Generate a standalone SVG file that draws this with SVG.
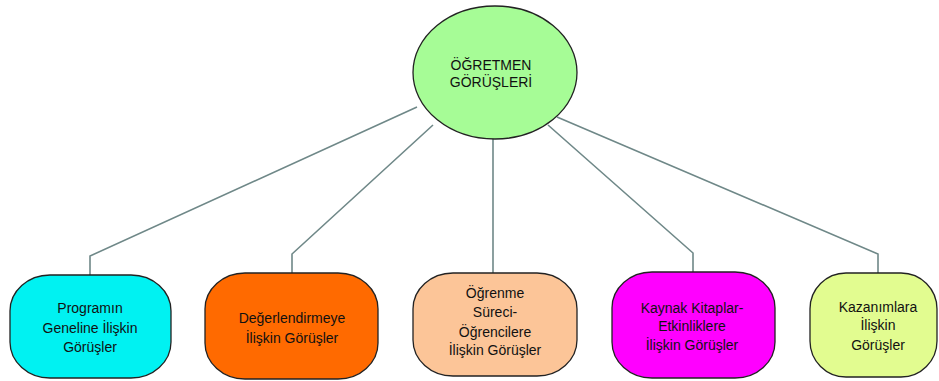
<svg xmlns="http://www.w3.org/2000/svg" width="939" height="381" viewBox="0 0 939 381">
<style>
.c{fill:none;stroke:#6f8888;stroke-width:1.6}
.n{stroke:#222;stroke-width:1.3}
text{font-family:"Liberation Sans",Arial,sans-serif;font-size:14px;fill:#111;text-anchor:middle}
</style>
<rect width="939" height="381" fill="#fff"/>
<g id="connectors">
<polyline class="c" points="417,107 90,256 90,275"/>
<polyline class="c" points="433,125 292,254 292,273"/>
<polyline class="c" points="493,139 493,273"/>
<polyline class="c" points="548,125 693,253 693,272"/>
<polyline class="c" points="557,117 878,254 878,273"/>
</g>
<g id="root">
<ellipse class="n" cx="495" cy="72.5" rx="82" ry="66.5" fill="#a6fc96"/>
<text x="491" y="70">ÖĞRETMEN</text>
<text x="491" y="87">GÖRÜŞLERİ</text>
</g>
<g id="n1">
<rect class="n" x="10" y="275" width="161" height="103" rx="40" ry="36" fill="#00f2f2"/>
<text x="90" y="313">Programın</text>
<text x="90" y="333">Geneline İlişkin</text>
<text x="90" y="352">Görüşler</text>
</g>
<g id="n2">
<rect class="n" x="205" y="273" width="173" height="106" rx="40" ry="36" fill="#ff6a00"/>
<text x="292" y="323">Değerlendirmeye</text>
<text x="292" y="343">İlişkin Görüşler</text>
</g>
<g id="n3">
<rect class="n" x="413" y="273" width="164" height="103" rx="40" ry="36" fill="#fcc598"/>
<text x="495" y="298">Öğrenme</text>
<text x="495" y="317">Süreci-</text>
<text x="495" y="337">Öğrencilere</text>
<text x="495" y="355">İlişkin Görüşler</text>
</g>
<g id="n4">
<rect class="n" x="612" y="272" width="163" height="106" rx="40" ry="36" fill="#ff00ff"/>
<text x="692" y="313">Kaynak Kitaplar-</text>
<text x="692" y="331">Etkinliklere</text>
<text x="692" y="350">İlişkin Görüşler</text>
</g>
<g id="n5">
<rect class="n" x="810" y="273" width="127" height="104" rx="36" ry="36" fill="#e2fc90"/>
<text x="878" y="312">Kazanımlara</text>
<text x="878" y="330">İlişkin</text>
<text x="878" y="350">Görüşler</text>
</g>
</svg>
